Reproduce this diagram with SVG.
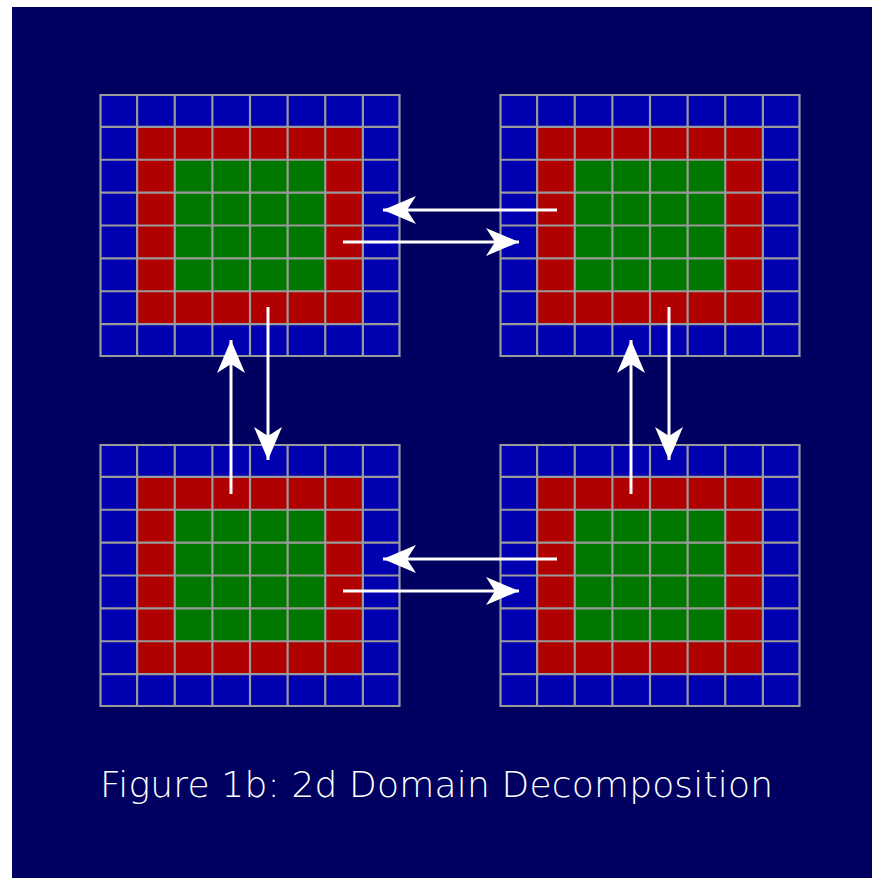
<svg xmlns="http://www.w3.org/2000/svg" xmlns:xlink="http://www.w3.org/1999/xlink" width="872" height="878" viewBox="0 0 872 878">
  <style>
    .ghost { fill: #0000b0; }
    .halo { fill: #b00000; }
    .core { fill: #007800; }
    .gridline { stroke: #9a9a9a; stroke-width: 2.2; fill: none; }
    .msg { stroke: #ffffff; stroke-width: 3; fill: none; marker-end: url(#dart); }
    .caption { font-family: "DejaVu Sans", "Liberation Sans", sans-serif; font-weight: 200; font-size: 36px; fill: #ffffff; }
  </style>
  <defs>
    <marker id="dart" markerUnits="userSpaceOnUse" markerWidth="40" markerHeight="32" refX="33" refY="15" orient="auto" viewBox="0 0 40 32">
      <path d="M0,1 L33,15 L0,29 L9,15 Z" fill="#ffffff"/>
    </marker>
    <!-- one 8x8 subdomain: ghost ring, halo ring, interior core -->
    <g id="subdomain">
      <rect class="ghost" x="0" y="0" width="301" height="263"/>
      <rect class="halo" x="37.625" y="32.875" width="225.75" height="197.25"/>
      <rect class="core" x="75.25" y="65.75" width="150.5" height="131.5"/>
      <path class="gridline" d="M1,0V263 M37.625,0V263 M75.25,0V263 M112.875,0V263 M150.5,0V263 M188.125,0V263 M225.75,0V263 M263.375,0V263 M300,0V263
                                M0,1H301 M0,32.875H301 M0,65.75H301 M0,98.625H301 M0,131.5H301 M0,164.375H301 M0,197.25H301 M0,230.125H301 M0,262H301"/>
    </g>
  </defs>

  <rect x="12" y="7" width="860" height="871" fill="#000060"/>

  <g id="domain-top-left"><use xlink:href="#subdomain" x="99.5" y="94"/></g>
  <g id="domain-top-right"><use xlink:href="#subdomain" x="499.5" y="94"/></g>
  <g id="domain-bottom-left"><use xlink:href="#subdomain" x="99.5" y="444"/></g>
  <g id="domain-bottom-right"><use xlink:href="#subdomain" x="499.5" y="444"/></g>

  <g id="connectors">
    <!-- top pair -->
    <line class="msg" x1="557" y1="210" x2="383" y2="210"/>
    <line class="msg" x1="343" y1="242" x2="519" y2="242"/>
    <!-- bottom pair -->
    <line class="msg" x1="557" y1="559" x2="383" y2="559"/>
    <line class="msg" x1="343" y1="591" x2="519" y2="591"/>
    <!-- left column -->
    <line class="msg" x1="231" y1="494" x2="231" y2="340"/>
    <line class="msg" x1="268" y1="307" x2="268" y2="460"/>
    <!-- right column -->
    <line class="msg" x1="631" y1="494" x2="631" y2="340"/>
    <line class="msg" x1="669" y1="307" x2="669" y2="460"/>
  </g>

  <text class="caption" x="100" y="797" textLength="673" lengthAdjust="spacing">Figure 1b: 2d Domain Decomposition</text>
</svg>
